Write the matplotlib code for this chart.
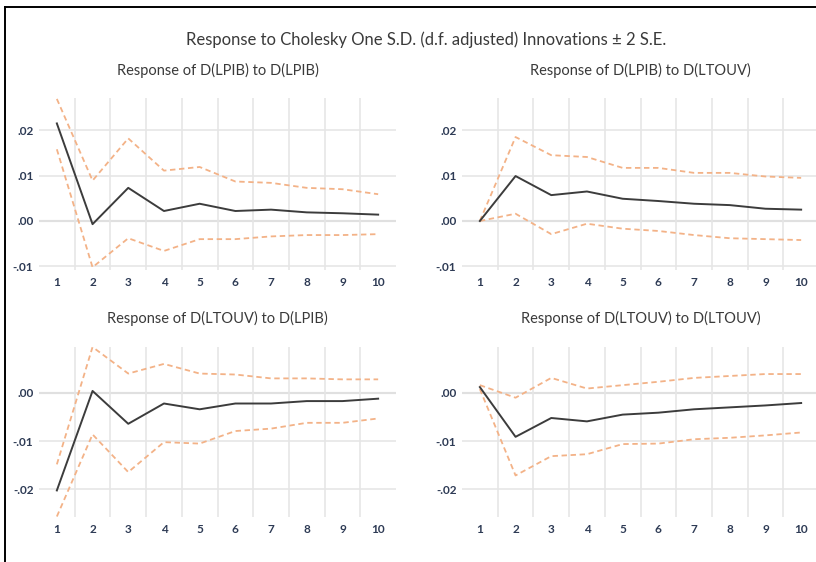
import numpy as np
import matplotlib
matplotlib.use('Agg')
from matplotlib import pyplot as plt
from matplotlib.ticker import FuncFormatter, FixedLocator
from matplotlib.lines import Line2D

plt.rcParams['font.family'] = ['Lato', 'DejaVu Sans']

periods = list(range(1, 11))

# Response of D(LPIB) to D(LPIB)
lpib_lpib = [0.0215, -0.0007, 0.0073, 0.0022, 0.0038, 0.0022, 0.0025, 0.0019, 0.0017, 0.0014]
lpib_lpib_hi = [0.0269, 0.0089, 0.0182, 0.0111, 0.0119, 0.0087, 0.0084, 0.0073, 0.0070, 0.0059]
lpib_lpib_lo = [0.0158, -0.0102, -0.0038, -0.0066, -0.0040, -0.0040, -0.0034, -0.0031, -0.0031, -0.0029]

# Response of D(LPIB) to D(LTOUV)
lpib_ltouv = [0.0000, 0.0099, 0.0057, 0.0065, 0.0049, 0.0044, 0.0038, 0.0035, 0.0027, 0.0025]
lpib_ltouv_hi = [0.0000, 0.0185, 0.0145, 0.0141, 0.0117, 0.0117, 0.0106, 0.0106, 0.0098, 0.0095]
lpib_ltouv_lo = [0.0000, 0.0016, -0.0029, -0.0006, -0.0017, -0.0022, -0.0031, -0.0038, -0.0040, -0.0042]

# Response of D(LTOUV) to D(LPIB)
ltouv_lpib = [-0.0202, 0.0004, -0.0064, -0.0022, -0.0034, -0.0022, -0.0022, -0.0017, -0.0017, -0.0012]
ltouv_lpib_hi = [-0.0148, 0.0095, 0.0040, 0.0060, 0.0040, 0.0038, 0.0030, 0.0030, 0.0028, 0.0028]
ltouv_lpib_lo = [-0.0256, -0.0086, -0.0164, -0.0102, -0.0105, -0.0079, -0.0074, -0.0062, -0.0062, -0.0053]

# Response of D(LTOUV) to D(LTOUV)
ltouv_ltouv = [0.0012, -0.0091, -0.0052, -0.0059, -0.0045, -0.0041, -0.0034, -0.0030, -0.0026, -0.0021]
ltouv_ltouv_hi = [0.0016, -0.0010, 0.0031, 0.0009, 0.0016, 0.0023, 0.0031, 0.0035, 0.0039, 0.0039]
ltouv_ltouv_lo = [0.0008, -0.0171, -0.0131, -0.0127, -0.0106, -0.0105, -0.0096, -0.0093, -0.0088, -0.0082]

panels = [
    ('Response of D(LPIB) to D(LPIB)', lpib_lpib, lpib_lpib_hi, lpib_lpib_lo, (-0.0108, 0.0271), [-0.01, 0.0, 0.01, 0.02]),
    ('Response of D(LPIB) to D(LTOUV)', lpib_ltouv, lpib_ltouv_hi, lpib_ltouv_lo, (-0.0108, 0.0271), [-0.01, 0.0, 0.01, 0.02]),
    ('Response of D(LTOUV) to D(LPIB)', ltouv_lpib, ltouv_lpib_hi, ltouv_lpib_lo, (-0.0257, 0.0095), [-0.02, -0.01, 0.0]),
    ('Response of D(LTOUV) to D(LTOUV)', ltouv_ltouv, ltouv_ltouv_hi, ltouv_ltouv_lo, (-0.0257, 0.0095), [-0.02, -0.01, 0.0]),
]

W, H = 816, 562
# axes boxes in pixels: left, top, right, bottom
boxes = [(39, 98, 396, 270), (462, 98, 819, 270), (39, 347, 396, 517), (462, 347, 819, 517)]

line_col = '#3c3c3c'
band_col = '#f3b287'
tick_col = '#2e3b55'
title_col = '#3a3a3a'


def fmt(v, pos):
    s = f'{v:.2f}'
    if s.startswith('-0'):
        return '-' + s[2:]
    if s.startswith('0'):
        return s[1:]
    return s


fig = plt.figure(figsize=(W / 100, H / 100), dpi=100)

for (title, mid, hi, lo, ylim, yticks), (l, t, r, b) in zip(panels, boxes):
    ax = fig.add_axes([l / W, 1 - b / H, (r - l) / W, (b - t) / H])
    ax.set_xlim(0.5, 10.5)
    ax.set_ylim(*ylim)
    ax.set_xticks(periods)
    ax.xaxis.set_minor_locator(FixedLocator(np.arange(1.5, 10, 1.0)))
    ax.set_yticks(yticks)
    ax.yaxis.set_major_formatter(FuncFormatter(fmt))
    ax.grid(axis='x', which='minor', color='#e6e6e6', lw=1.2)
    ax.grid(axis='y', which='major', color='#e6e6e6', lw=1.2)
    ax.axhline(0, color='#c8c8c8', lw=1.5, zorder=1)
    for s in ax.spines.values():
        s.set_visible(False)
    ax.tick_params(which='both', length=0, labelsize=8.5, labelcolor=tick_col)
    ax.tick_params(axis='x', pad=5)
    ax.tick_params(axis='y', pad=4)
    for lab in ax.get_xticklabels() + ax.get_yticklabels():
        lab.set_fontweight('bold')
    ax.plot(periods, hi, color=band_col, ls=(0, (3, 2)), lw=1.3, zorder=3)
    ax.plot(periods, lo, color=band_col, ls=(0, (3, 2)), lw=1.3, zorder=3)
    ax.plot(periods, mid, color=line_col, lw=1.4, zorder=4)
    # panel title, placed in pixels above the axes
    ty = 70 if t < 200 else 318
    fig.text((l + r) / 2 / W, 1 - ty / H, title, ha='center', va='center', fontsize=10.5, color=title_col)

fig.text(426 / W, 1 - 40 / H, 'Response to Cholesky One S.D. (d.f. adjusted) Innovations \u00b1 2 S.E.',
         ha='center', va='center', fontsize=12, color=title_col)

# document frame around the figure
fig.add_artist(Line2D([4.5 / W, 4.5 / W], [1 - 6.5 / H, 0], color='black', lw=1.4, transform=fig.transFigure))
fig.add_artist(Line2D([4.5 / W, 1], [1 - 6.5 / H, 1 - 6.5 / H], color='black', lw=1.4, transform=fig.transFigure))

fig.savefig('out.png', dpi=100)
